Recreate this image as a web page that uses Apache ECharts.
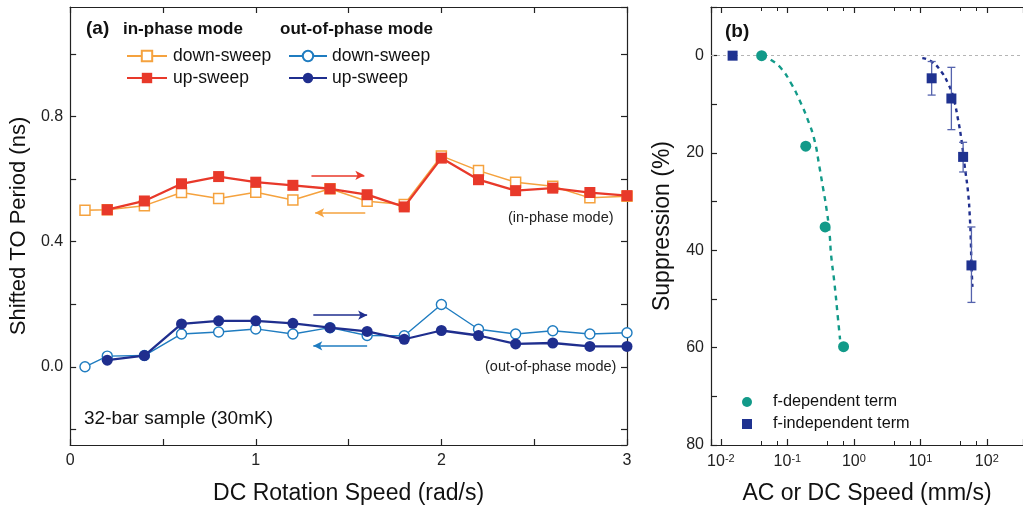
<!DOCTYPE html>
<html><head><meta charset="utf-8">
<script src="https://cdn.jsdelivr.net/npm/echarts@6/dist/echarts.min.js"></script>
<style>html,body{margin:0;padding:0;background:#fff}#c{width:1023px;height:510px}</style>
</head><body><div id="c"></div>
<script>
// ---------- Panel (a) data ----------
const speedDown = [0.08,0.2,0.4,0.6,0.8,1.0,1.2,1.4,1.6,1.8,2.0,2.2,2.4,2.6,2.8,3.0];
const speedUp   = [0.2,0.4,0.6,0.8,1.0,1.2,1.4,1.6,1.8,2.0,2.2,2.4,2.6,2.8,3.0];
const inPhaseDown  = [0.500,0.502,0.515,0.557,0.538,0.558,0.533,0.569,0.529,0.519,0.674,0.627,0.590,0.577,0.540,0.545];
const inPhaseUp    = [0.502,0.530,0.585,0.608,0.590,0.580,0.569,0.550,0.511,0.667,0.598,0.563,0.571,0.557,0.547];
const outPhaseDown = [0.000,0.034,0.036,0.105,0.111,0.121,0.105,0.125,0.100,0.099,0.199,0.120,0.105,0.115,0.105,0.109];
const outPhaseUp   = [0.021,0.036,0.137,0.147,0.147,0.139,0.125,0.113,0.088,0.116,0.100,0.073,0.076,0.065,0.065];
// sweep-direction arrows [xStart, xEnd, y]
const arrowInUp    = [1.30, 1.585, 0.612];
const arrowInDown  = [1.59, 1.32, 0.492];
const arrowOutUp   = [1.31, 1.60, 0.165];
const arrowOutDown = [1.60, 1.31, 0.067];
const xTicksA = [0, 1, 2, 3];

// ---------- Panel (b) data ----------
const fDepSpeed = [0.041, 0.189, 0.37, 0.70];
const fDepSupp  = [0, 18.6, 35.2, 59.8];
const fIndSpeed = [0.015, 14.8, 29.3, 44, 58.7];
const fIndSupp  = [0, 4.65, 8.8, 20.8, 43.1];
const fIndErrLow  = [null, 1.2, 2.4, 17.8, 35.2];
const fIndErrHigh = [null, 8.1, 15.2, 23.9, 50.7];
const fitDepSpeed = [0.041,0.0568,0.0804,0.1135,0.152,0.203,0.255,0.303,0.341,0.383,0.43,0.455,0.511,0.574,0.62];
const fitDepSupp  = [0,0.89,2.6,5.67,9.1,13.2,17.3,22.8,26.9,31.0,36.4,41.0,46.8,53.7,58.3];
const fitIndSpeed = [10.7,14.7,20.7,26.1,31.1,37,41.5,46.6,52.3,55.4,57.4,58.7,60.8];
const fitIndSupp  = [0.5,1.2,3.3,5.7,8.4,13.2,17.3,22.8,28.2,33,37.8,43,47.5];

const zip = (a, b) => a.map((v, i) => [v, b[i]]);
const FONT = 'Liberation Sans';
const C = {
  orange: '#f5a23e', red: '#e8392a', blue: '#1f7cc0', navy: '#1f2e8e',
  teal: '#129a89', sq: '#1f3290', err: '#5563ad', axis: '#222'
};

const chart = echarts.init(document.getElementById('c'), null, {renderer: 'canvas'});

function arrowLine(a, color, xi, yi) {
  return {
    type: 'line', xAxisIndex: xi, yAxisIndex: yi, silent: true, symbol: 'none',
    data: [], z: 1,
    markLine: {
      silent: true, symbol: ['none', 'arrow'], symbolSize: [7, 9],
      lineStyle: {color: color, width: 1.5, type: 'solid'}, label: {show: false},
      data: [[{coord: [a[0], a[2]]}, {coord: [a[1], a[2]]}]]
    }
  };
}

const axisCommon = {
  axisLine: {show: true, onZero: false, lineStyle: {color: C.axis, width: 1.2}},
  axisTick: {show: true, inside: true, length: 6, lineStyle: {color: C.axis, width: 1.2}},
  splitLine: {show: false},
  axisLabel: {color: C.axis, fontFamily: FONT, fontSize: 16}
};
const titleStyle = {fontFamily: FONT, fontSize: 23, color: '#111'};

const option = {
  backgroundColor: '#fff',
  animation: false,
  textStyle: {fontFamily: FONT},
  grid: [
    {left: 67, top: 7, width: 560, height: 438, show: false},
    {left: 711, top: 7, width: 314, height: 438, show: false}
  ],
  xAxis: [
    Object.assign({}, axisCommon, {
      gridIndex: 0, type: 'value', min: 0, max: 3, interval: 0.5, position: 'bottom',
      name: 'DC Rotation Speed (rad/s)', nameLocation: 'middle', nameGap: 37,
      nameTextStyle: titleStyle,
      axisLabel: Object.assign({}, axisCommon.axisLabel, {margin: 8,
        formatter: v => (xTicksA.indexOf(v) >= 0 ? String(v) : '')})
    }),
    Object.assign({}, axisCommon, {
      gridIndex: 0, type: 'value', min: 0, max: 3, interval: 0.5, position: 'top',
      axisLabel: {show: false}
    }),
    Object.assign({}, axisCommon, {
      gridIndex: 1, type: 'log', logBase: 10, min: 0.0071, max: 350, position: 'bottom',
      name: 'AC or DC Speed (mm/s)', nameLocation: 'middle', nameGap: 37,
      nameTextStyle: titleStyle,
      minorTick: {show: true, splitNumber: 3, length: 4, lineStyle: {color: C.axis, width: 1}},
      axisTick: {show: true, inside: true, length: 6, lineStyle: {color: C.axis, width: 1.2}},
      axisLabel: Object.assign({}, axisCommon.axisLabel, {margin: 8,
        showMinLabel: false, showMaxLabel: false,
        formatter: v => {
          const e = Math.log10(v);
          if (Math.abs(e - Math.round(e)) > 1e-6) return '';
          return '{b|10}{s|' + Math.round(e) + '}';
        },
        rich: {b: {fontFamily: FONT, fontSize: 16, color: C.axis},
               s: {fontFamily: FONT, fontSize: 11, color: C.axis, verticalAlign: 'top', padding: [0, 0, 7, 0]}}
      })
    }),
    Object.assign({}, axisCommon, {
      gridIndex: 1, type: 'log', logBase: 10, min: 0.0071, max: 350, position: 'top',
      minorTick: {show: true, splitNumber: 3, length: 4, lineStyle: {color: C.axis, width: 1}},
      axisLabel: {show: false}
    })
  ],
  yAxis: [
    Object.assign({}, axisCommon, {
      gridIndex: 0, type: 'value', min: -0.25, max: 1.15, splitNumber: 7, position: 'left',
      name: 'Shifted TO Period (ns)', nameLocation: 'middle', nameGap: 38,
      nameTextStyle: Object.assign({}, titleStyle, {fontSize: 22}),
      axisLabel: Object.assign({}, axisCommon.axisLabel, {margin: 7,
        showMinLabel: false, showMaxLabel: false,
        formatter: v => {
          const k = v / 0.4;
          return Math.abs(k - Math.round(k)) < 1e-6 ? v.toFixed(1) : '';
        }})
    }),
    Object.assign({}, axisCommon, {
      gridIndex: 0, type: 'value', min: -0.25, max: 1.15, splitNumber: 7, position: 'right',
      axisLabel: {show: false}
    }),
    Object.assign({}, axisCommon, {
      gridIndex: 1, type: 'value', min: -10, max: 80, interval: 10, inverse: true, position: 'left',
      name: 'Suppression (%)', nameLocation: 'middle', nameGap: 37,
      nameTextStyle: Object.assign({}, titleStyle, {fontSize: 23}),
      axisLabel: Object.assign({}, axisCommon.axisLabel, {margin: 7,
        formatter: v => (v >= 0 && v % 20 === 0 ? String(v) : '')})
    })
  ],
  legend: [
    {
      left: 121, top: 42, orient: 'vertical', itemWidth: 40, itemHeight: 13, itemGap: 4,
      data: ['inDown', 'inUp'], selectedMode: false,
      formatter: n => (n === 'inDown' ? 'down-sweep' : 'up-sweep'),
      textStyle: {fontFamily: FONT, fontSize: 17.5, color: '#111', padding: [0, 0, 0, 1]}
    },
    {
      left: 283, top: 42, orient: 'vertical', itemWidth: 38, itemHeight: 13, itemGap: 4,
      data: ['outDown', 'outUp'], selectedMode: false,
      formatter: n => (n === 'outDown' ? 'down-sweep' : 'up-sweep'),
      textStyle: {fontFamily: FONT, fontSize: 17.5, color: '#111', padding: [0, 0, 0, 0]}
    },
    {
      left: 737, top: 389, orient: 'vertical', itemWidth: 10, itemHeight: 10, itemGap: 6,
      data: ['f-dependent term', 'f-independent term'], selectedMode: false,
      textStyle: {fontFamily: FONT, fontSize: 16.3, color: '#111', padding: [0, 0, 0, 16]}
    }
  ],
  graphic: [
    {type: 'text', left: 86, top: 19, style: {text: '(a)', font: 'bold 19px "Liberation Sans"', fill: '#111'}},
    {type: 'text', left: 123, top: 21, style: {text: 'in-phase mode', font: 'bold 17px "Liberation Sans"', fill: '#111'}},
    {type: 'text', left: 280, top: 21, style: {text: 'out-of-phase mode', font: 'bold 17px "Liberation Sans"', fill: '#111'}},
    {type: 'text', left: 508, top: 210, style: {text: '(in-phase mode)', font: '14.5px "Liberation Sans"', fill: '#222'}},
    {type: 'text', left: 485, top: 359, style: {text: '(out-of-phase mode)', font: '14.5px "Liberation Sans"', fill: '#222'}},
    {type: 'text', left: 84, top: 409, style: {text: '32-bar sample (30mK)', font: '19px "Liberation Sans"', fill: '#111'}},
    {type: 'text', left: 725, top: 22, style: {text: '(b)', font: 'bold 19px "Liberation Sans"', fill: '#111'}}
  ],
  series: [
    {
      name: 'inDown', type: 'line', xAxisIndex: 0, yAxisIndex: 0, z: 3,
      data: zip(speedDown, inPhaseDown), symbol: 'rect', symbolSize: 10,
      lineStyle: {color: C.orange, width: 1.5},
      itemStyle: {color: '#fff', borderColor: C.orange, borderWidth: 1.5}
    },
    {
      name: 'inUp', type: 'line', xAxisIndex: 0, yAxisIndex: 0, z: 4,
      data: zip(speedUp, inPhaseUp), symbol: 'rect', symbolSize: 11,
      lineStyle: {color: C.red, width: 2.3},
      itemStyle: {color: C.red, borderColor: C.red, borderWidth: 0}
    },
    {
      name: 'outDown', type: 'line', xAxisIndex: 0, yAxisIndex: 0, z: 3,
      data: zip(speedDown, outPhaseDown), symbol: 'circle', symbolSize: 10,
      lineStyle: {color: C.blue, width: 1.4},
      itemStyle: {color: '#fff', borderColor: C.blue, borderWidth: 1.4}
    },
    {
      name: 'outUp', type: 'line', xAxisIndex: 0, yAxisIndex: 0, z: 4,
      data: zip(speedUp, outPhaseUp), symbol: 'circle', symbolSize: 11,
      lineStyle: {color: C.navy, width: 2.3},
      itemStyle: {color: C.navy, borderColor: C.navy, borderWidth: 0}
    },
    arrowLine(arrowInUp, C.red, 0, 0),
    arrowLine(arrowInDown, C.orange, 0, 0),
    arrowLine(arrowOutUp, C.navy, 0, 0),
    arrowLine(arrowOutDown, C.blue, 0, 0),
    // panel (b)
    {
      name: 'zeroLine', type: 'line', xAxisIndex: 2, yAxisIndex: 2, data: [], symbol: 'none',
      markLine: {silent: true, symbol: 'none', label: {show: false},
        lineStyle: {color: '#b5b5b5', type: [3, 3], width: 1.2}, data: [{yAxis: 0}]}
    },
    {
      name: 'fitDep', type: 'line', xAxisIndex: 2, yAxisIndex: 2, smooth: true, symbol: 'none', z: 2,
      data: zip(fitDepSpeed, fitDepSupp),
      lineStyle: {color: C.teal, width: 2.4, type: [5, 5]}
    },
    {
      name: 'fitInd', type: 'line', xAxisIndex: 2, yAxisIndex: 2, smooth: true, symbol: 'none', z: 2,
      data: zip(fitIndSpeed, fitIndSupp),
      lineStyle: {color: C.navy, width: 2.4, type: [4, 4]}
    },
    {
      name: 'errBars', type: 'custom', xAxisIndex: 2, yAxisIndex: 2, z: 3, silent: true,
      data: fIndSpeed.map((x, i) => [x, fIndErrLow[i], fIndErrHigh[i]]).filter(d => d[1] !== null),
      renderItem: (params, api) => {
        const lo = api.coord([api.value(0), api.value(1)]);
        const hi = api.coord([api.value(0), api.value(2)]);
        const w = 4;
        const st = {stroke: C.err, lineWidth: 1.3};
        return {type: 'group', children: [
          {type: 'line', shape: {x1: lo[0], y1: lo[1], x2: hi[0], y2: hi[1]}, style: st},
          {type: 'line', shape: {x1: lo[0] - w, y1: lo[1], x2: lo[0] + w, y2: lo[1]}, style: st},
          {type: 'line', shape: {x1: hi[0] - w, y1: hi[1], x2: hi[0] + w, y2: hi[1]}, style: st}
        ]};
      }
    },
    {
      name: 'f-dependent term', type: 'scatter', xAxisIndex: 2, yAxisIndex: 2, z: 5,
      data: zip(fDepSpeed, fDepSupp), symbol: 'circle', symbolSize: 11,
      itemStyle: {color: C.teal, opacity: 1}
    },
    {
      name: 'f-independent term', type: 'scatter', xAxisIndex: 2, yAxisIndex: 2, z: 5,
      data: zip(fIndSpeed, fIndSupp), symbol: 'rect', symbolSize: 10,
      itemStyle: {color: C.sq, opacity: 1}
    }
  ]
};
chart.setOption(option);
</script>
</body></html>
